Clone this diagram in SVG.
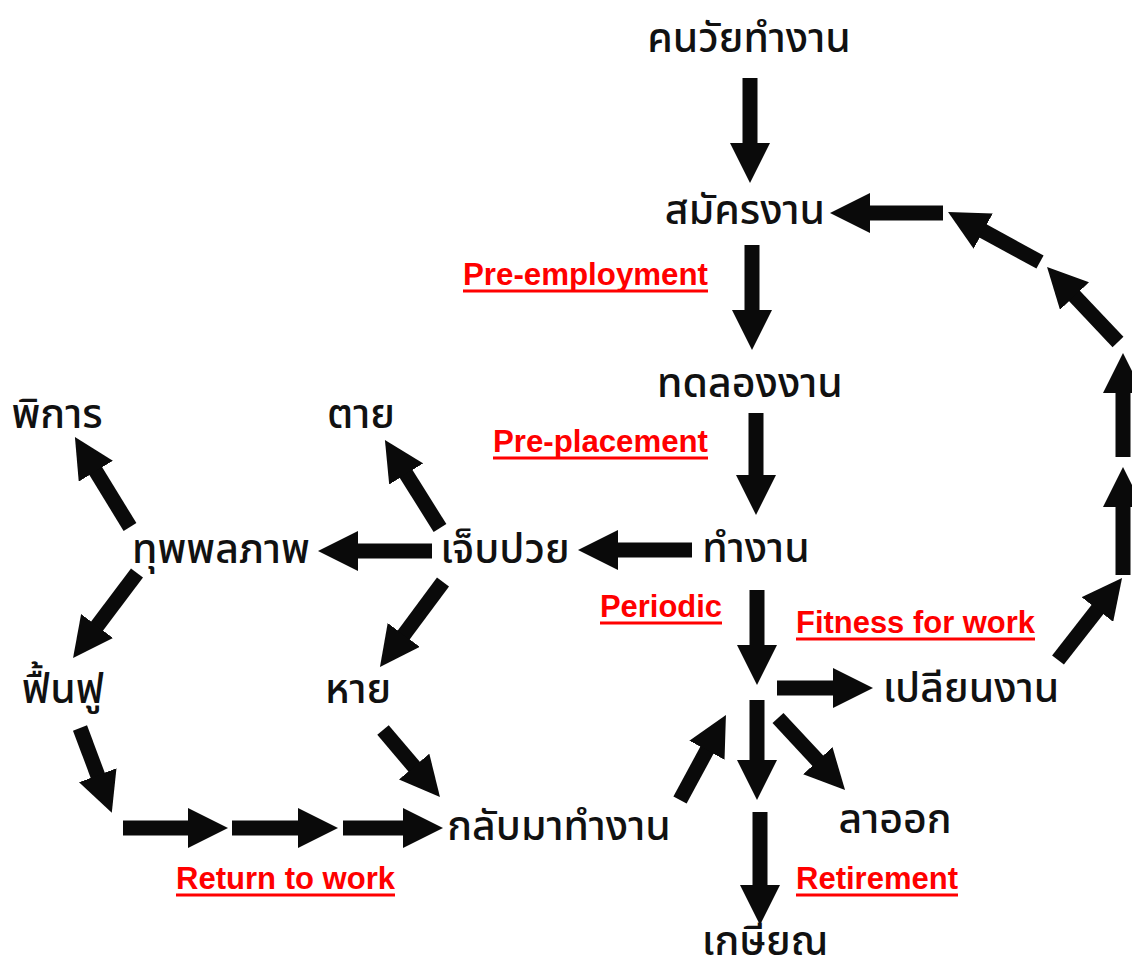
<svg xmlns="http://www.w3.org/2000/svg" width="1132" height="971" viewBox="0 0 1132 971">
<style>
.th{font-family:"Noto Sans Thai","Noto Sans","Liberation Sans",sans-serif;font-size:41px;font-weight:500;fill:#111;text-anchor:middle}
.lb{font-family:"Liberation Sans",Arial,sans-serif;font-size:31px;font-weight:bold;fill:#ff0000}
.ul{stroke:#ff0000;stroke-width:3}
.ar{stroke:#0a0a0a;stroke-width:15;fill:none;marker-end:url(#h)}
</style>
<defs>
<marker id="h" markerUnits="userSpaceOnUse" markerWidth="40" markerHeight="40" refX="5" refY="20" orient="auto">
<path d="M0,0 L40,20 L0,40 z" fill="#0a0a0a"/>
</marker>
</defs>
<rect width="1132" height="971" fill="#fff"/>
<g id="connectors">
<line class="ar" x1="750" y1="78" x2="750" y2="148"/>
<line class="ar" x1="752" y1="245" x2="752" y2="315"/>
<line class="ar" x1="756" y1="413" x2="756" y2="480"/>
<line class="ar" x1="757" y1="590" x2="757" y2="650"/>
<line class="ar" x1="692" y1="550" x2="613" y2="550"/>
<line class="ar" x1="432" y1="551" x2="353" y2="551"/>
<line class="ar" x1="440" y1="528" x2="403.5" y2="469.7"/>
<line class="ar" x1="443" y1="582" x2="400.8" y2="638.9"/>
<line class="ar" x1="130" y1="527" x2="93.2" y2="466.9"/>
<line class="ar" x1="137" y1="573" x2="94.1" y2="630"/>
<line class="ar" x1="80" y1="728" x2="99.5" y2="780"/>
<line class="ar" x1="123" y1="828" x2="193" y2="828"/>
<line class="ar" x1="232" y1="828" x2="303" y2="828"/>
<line class="ar" x1="343" y1="828" x2="408" y2="828"/>
<line class="ar" x1="383" y1="730" x2="417.3" y2="770.4"/>
<line class="ar" x1="680" y1="800" x2="709.3" y2="745.8"/>
<line class="ar" x1="777" y1="688" x2="838" y2="688"/>
<line class="ar" x1="778" y1="718" x2="821.2" y2="764.4"/>
<line class="ar" x1="757" y1="700" x2="757" y2="765"/>
<line class="ar" x1="760" y1="812" x2="760" y2="890"/>
<line class="ar" x1="1058" y1="660" x2="1100.5" y2="605.6"/>
<line class="ar" x1="1123" y1="575" x2="1123" y2="502"/>
<line class="ar" x1="1123" y1="457" x2="1123" y2="388"/>
<line class="ar" x1="1118" y1="342" x2="1071.1" y2="292.4"/>
<line class="ar" x1="1040" y1="262" x2="978.8" y2="228.7"/>
<line class="ar" x1="943" y1="213" x2="865" y2="213"/>
</g>
<g id="n-working-age"><text class="th" x="749" y="52">คนวัยทำงาน</text></g>
<g id="n-apply"><text class="th" x="745" y="224">สมัครงาน</text></g>
<g id="n-probation"><text class="th" x="750" y="397">ทดลองงาน</text></g>
<g id="n-work"><text class="th" x="756" y="562">ทำงาน</text></g>
<g id="n-sick"><text class="th" x="505" y="563">เจ็บปวย</text></g>
<g id="n-disabled"><text class="th" x="221" y="563">ทุพพลภาพ</text></g>
<g id="n-handicap"><text class="th" x="57" y="428">พิการ</text></g>
<g id="n-death"><text class="th" x="361" y="428">ตาย</text></g>
<g id="n-rehab"><text class="th" x="63" y="703">ฟื้นฟู</text></g>
<g id="n-recover"><text class="th" x="358" y="703">หาย</text></g>
<g id="n-return"><text class="th" x="559" y="840">กลับมาทำงาน</text></g>
<g id="n-change"><text class="th" x="971" y="702">เปลียนงาน</text></g>
<g id="n-resign"><text class="th" x="895" y="833">ลาออก</text></g>
<g id="n-retire"><text class="th" x="765" y="955">เกษียณ</text></g>
<g id="labels">
<text class="lb" x="463" y="285" textLength="245" lengthAdjust="spacingAndGlyphs">Pre-employment</text>
<line class="ul" x1="463" y1="291" x2="708" y2="291"/>
<text class="lb" x="493" y="452" textLength="215" lengthAdjust="spacingAndGlyphs">Pre-placement</text>
<line class="ul" x1="493" y1="458" x2="708" y2="458"/>
<text class="lb" x="600" y="617" textLength="122" lengthAdjust="spacingAndGlyphs">Periodic</text>
<line class="ul" x1="600" y1="623" x2="722" y2="623"/>
<text class="lb" x="796" y="633" textLength="239" lengthAdjust="spacingAndGlyphs">Fitness for work</text>
<line class="ul" x1="796" y1="639" x2="1035" y2="639"/>
<text class="lb" x="176" y="889" textLength="219" lengthAdjust="spacingAndGlyphs">Return to work</text>
<line class="ul" x1="176" y1="895" x2="395" y2="895"/>
<text class="lb" x="796" y="889" textLength="162" lengthAdjust="spacingAndGlyphs">Retirement</text>
<line class="ul" x1="796" y1="895" x2="958" y2="895"/>
</g>
</svg>
